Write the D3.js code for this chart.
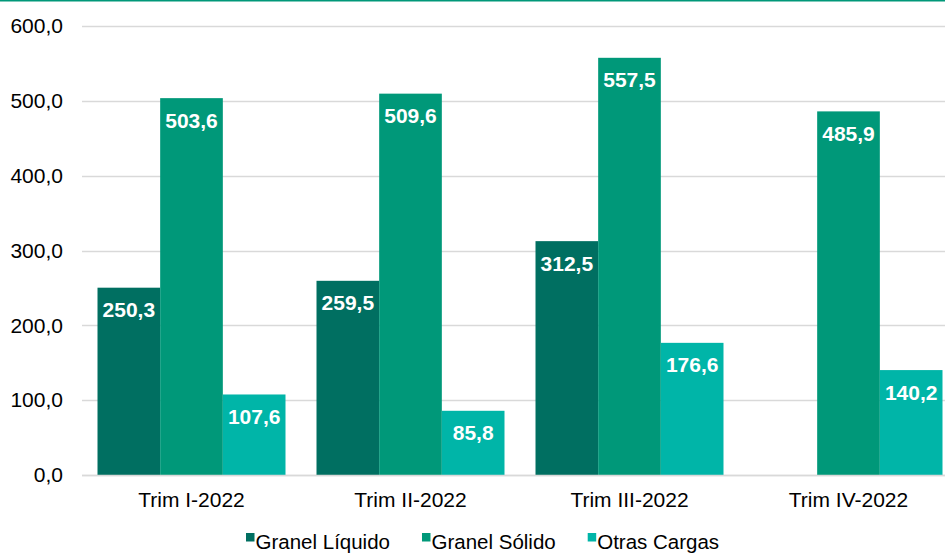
<!DOCTYPE html>
<html>
<head>
<meta charset="utf-8">
<script src="https://cdn.jsdelivr.net/npm/d3@7"></script>
<style>
  html, body { margin: 0; padding: 0; background: #fff; }
  svg { display: block; font-family: "Liberation Sans", Arial, sans-serif; }
</style>
</head>
<body>
<svg id="chart" width="945" height="554"></svg>
<script>
// Quarterly cargo tonnage by cargo type
const categories = ["Trim I-2022", "Trim II-2022", "Trim III-2022", "Trim IV-2022"];
const seriesNames = ["Granel Líquido", "Granel Sólido", "Otras Cargas"];
const granelLiquido = [250.3, 259.5, 312.5, null];
const granelSolido = [503.6, 509.6, 557.5, 485.9];
const otrasCargas = [107.6, 85.8, 176.6, 140.2];
const yTicks = [0, 100, 200, 300, 400, 500, 600];
const colors = ["#006f61", "#009879", "#00b5a8"];

const seriesValues = [granelLiquido, granelSolido, otrasCargas];
const fmt = v => d3.format(".1f")(v).replace(".", ",");

const svg = d3.select("#chart");

// Top rule
svg.append("rect").attr("x", 0).attr("y", 0).attr("width", 945).attr("height", 1.5)
  .attr("fill", "#009879");

const plot = { left: 82, right: 958, top: 26, bottom: 475 };

const y = d3.scaleLinear().domain([0, 600]).range([plot.bottom, plot.top]);
const x0 = d3.scaleBand().domain(categories).range([plot.left, plot.right])
  .paddingInner(0.1416).paddingOuter(0.0708);
const x1 = d3.scaleBand().domain(seriesNames).range([0, x0.bandwidth()]);

// Gridlines
svg.append("g").selectAll("line").data(yTicks).join("line")
  .attr("x1", plot.left).attr("x2", 945)
  .attr("y1", d => Math.round(y(d)) + 0.5).attr("y2", d => Math.round(y(d)) + 0.5)
  .attr("stroke", "#d9d9d9").attr("stroke-width", 1.5);

// Y axis labels
const yAxis = d3.axisLeft(y).tickValues(yTicks).tickFormat(fmt).tickSize(0).tickPadding(0);
const gy = svg.append("g").attr("transform", "translate(63,0)").call(yAxis);
gy.select(".domain").remove();
gy.selectAll("text").attr("font-size", 21).attr("fill", "#000")
  .attr("font-family", "'Liberation Sans', Arial, sans-serif");

// X axis labels
const xAxis = d3.axisBottom(x0).tickSize(0).tickPadding(0);
const gx = svg.append("g").attr("transform", `translate(0,${plot.bottom})`).call(xAxis);
gx.select(".domain").remove();
gx.selectAll("text").attr("font-size", 21).attr("fill", "#000")
  .attr("dy", null).attr("y", 32)
  .attr("font-family", "'Liberation Sans', Arial, sans-serif");

// Bars
const barData = [];
categories.forEach((c, i) => {
  seriesNames.forEach((s, j) => {
    const v = seriesValues[j][i];
    if (v != null) barData.push({ cat: c, series: s, idx: j, value: v });
  });
});

svg.append("g").selectAll("rect").data(barData).join("rect")
  .attr("x", d => x0(d.cat) + x1(d.series))
  .attr("y", d => y(d.value))
  .attr("width", x1.bandwidth())
  .attr("height", d => y(0) - y(d.value))
  .attr("fill", d => colors[d.idx]);

// Value labels inside the bar tops
svg.append("g").selectAll("text").data(barData).join("text")
  .attr("x", d => x0(d.cat) + x1(d.series) + x1.bandwidth() / 2)
  .attr("y", d => y(d.value) + 29.5)
  .attr("text-anchor", "middle")
  .attr("font-size", 21).attr("font-weight", "bold").attr("fill", "#fff")
  .text(d => fmt(d.value));

// Baseline
svg.append("line").attr("x1", plot.left).attr("x2", 945)
  .attr("y1", Math.round(y(0)) + 0.5).attr("y2", Math.round(y(0)) + 0.5)
  .attr("stroke", "#d9d9d9").attr("stroke-width", 1.5);

// Legend
const legend = svg.append("g");
let lx = 246;
seriesNames.forEach((s, j) => {
  legend.append("rect").attr("x", lx).attr("y", 533).attr("width", 8.5).attr("height", 8.5)
    .attr("fill", colors[j]);
  const t = legend.append("text").attr("x", lx + 9.5).attr("y", 549)
    .attr("font-size", 20.5).attr("fill", "#000").text(s);
  const w = t.node().getComputedTextLength();
  lx = lx + 9.5 + w + 32;
});
</script>
</body>
</html>
